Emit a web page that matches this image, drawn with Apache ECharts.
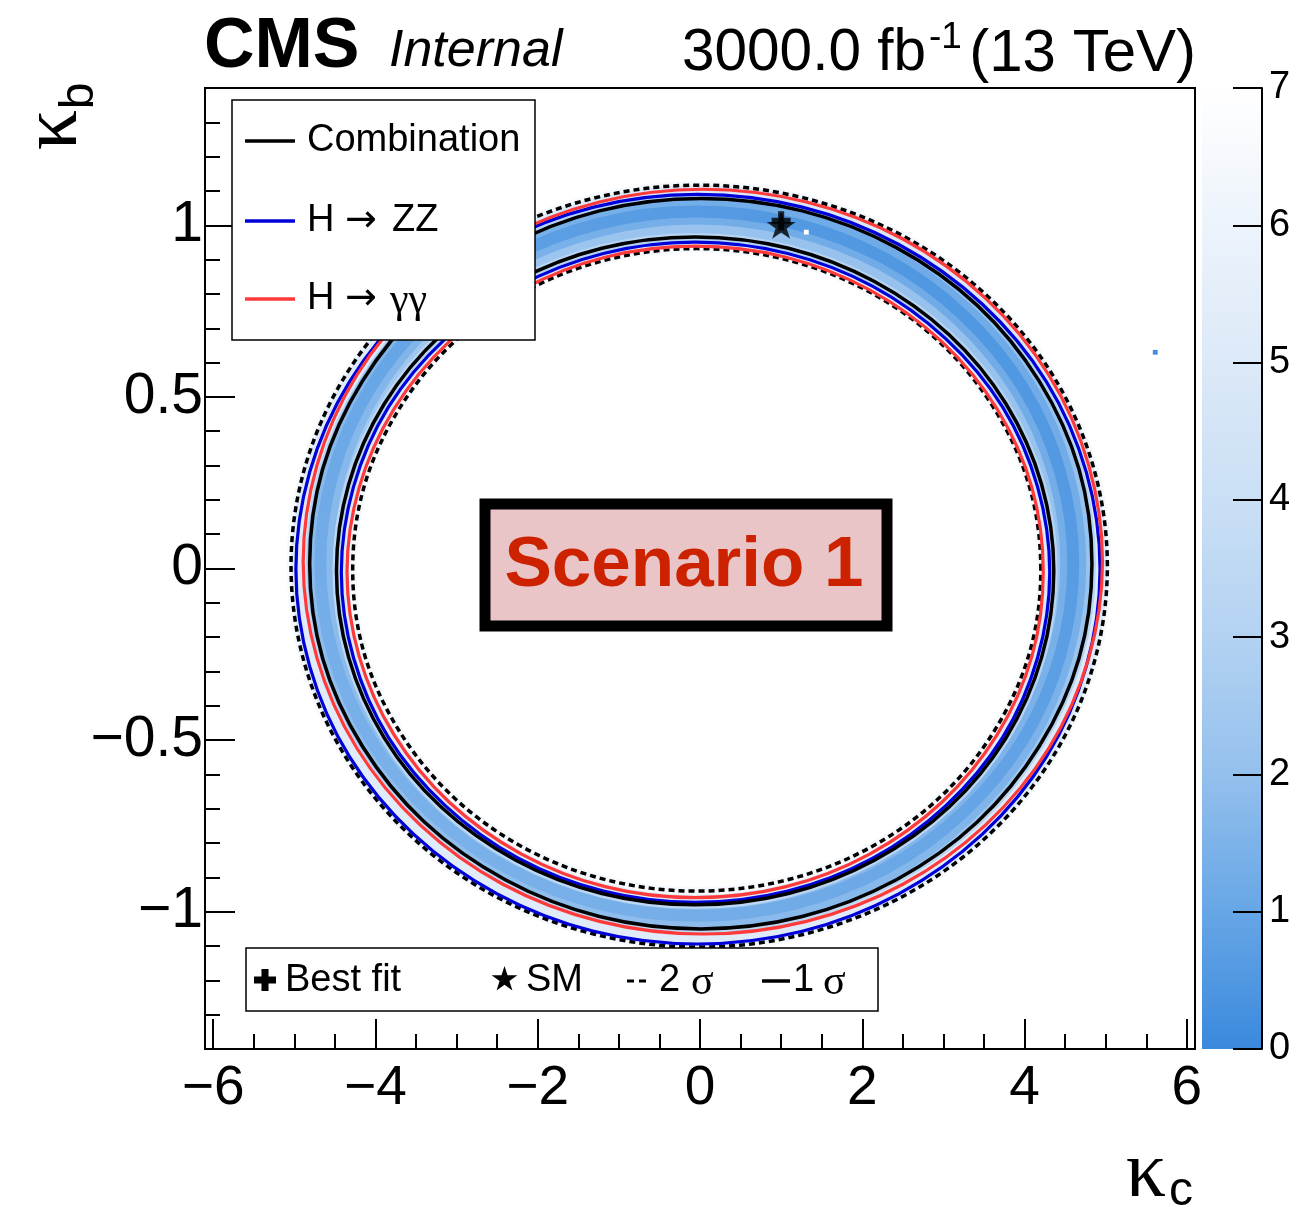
<!DOCTYPE html>
<html><head><meta charset="utf-8">
<script src="https://cdn.jsdelivr.net/npm/echarts@6/dist/echarts.min.js"></script>
<style>html,body{margin:0;padding:0;background:#fff}#c{width:1297px;height:1207px}</style>
</head><body><div id="c"></div>
<script>
// ---------- tick labels ----------
const xTicks = [-6, -4, -2, 0, 2, 4, 6];
const xMinorTicks = [-5.5, -5, -4.5, -3.5, -3, -2.5, -1.5, -1, -0.5, 0.5, 1, 1.5, 2.5, 3, 3.5, 4.5, 5, 5.5];
const yTicks = [-1, -0.5, 0, 0.5, 1];
const yMinorTicks = [-1.3, -1.2, -1.1, -0.9, -0.8, -0.7, -0.6, -0.4, -0.3, -0.2, -0.1, 0.1, 0.2, 0.3, 0.4, 0.6, 0.7, 0.8, 0.9, 1.1, 1.2, 1.3];
const zTicks = [0, 1, 2, 3, 4, 5, 6, 7];

// ---------- contours [kappa_c, kappa_b] ----------
const comb2sOuter = [[5.02,0.007],[4.85,0.294],[4.35,0.562],[3.55,0.792],[2.51,0.968],[1.29,1.079],[-0.01,1.117],[-1.31,1.079],[-2.53,0.968],[-3.57,0.792],[-4.37,0.562],[-4.87,0.294],[-5.04,0.007],[-4.87,-0.280],[-4.37,-0.548],[-3.57,-0.778],[-2.53,-0.954],[-1.31,-1.065],[-0.01,-1.103],[1.29,-1.065],[2.51,-0.954],[3.55,-0.778],[4.35,-0.548],[4.85,-0.280]];
const comb2sInner = [[4.20,-0.004],[4.06,0.238],[3.63,0.464],[2.96,0.658],[2.08,0.807],[1.06,0.900],[-0.04,0.932],[-1.14,0.900],[-2.16,0.807],[-3.04,0.658],[-3.71,0.464],[-4.14,0.238],[-4.28,-0.004],[-4.14,-0.246],[-3.71,-0.472],[-3.04,-0.666],[-2.16,-0.815],[-1.14,-0.908],[-0.04,-0.940],[1.06,-0.908],[2.08,-0.815],[2.96,-0.666],[3.63,-0.472],[4.06,-0.246]];
const comb1sOuter = [[4.83,0.014],[4.67,0.290],[4.18,0.546],[3.42,0.766],[2.42,0.935],[1.26,1.042],[0.01,1.078],[-1.24,1.042],[-2.40,0.935],[-3.40,0.766],[-4.16,0.546],[-4.65,0.290],[-4.81,0.014],[-4.65,-0.262],[-4.16,-0.518],[-3.40,-0.738],[-2.40,-0.907],[-1.24,-1.014],[0.01,-1.050],[1.26,-1.014],[2.42,-0.907],[3.42,-0.738],[4.18,-0.518],[4.67,-0.262]];
const comb1sInner = [[4.36,-0.007],[4.21,0.245],[3.77,0.480],[3.07,0.681],[2.15,0.836],[1.09,0.933],[-0.06,0.966],[-1.21,0.933],[-2.27,0.836],[-3.19,0.681],[-3.89,0.480],[-4.33,0.245],[-4.48,-0.007],[-4.33,-0.259],[-3.89,-0.494],[-3.19,-0.695],[-2.27,-0.850],[-1.21,-0.947],[-0.06,-0.980],[1.09,-0.947],[2.15,-0.850],[3.07,-0.695],[3.77,-0.494],[4.21,-0.259]];
const zz1sOuter = [[4.93,-0.002],[4.76,0.281],[4.27,0.544],[3.48,0.770],[2.45,0.944],[1.26,1.053],[-0.03,1.090],[-1.31,1.053],[-2.50,0.944],[-3.53,0.770],[-4.32,0.544],[-4.81,0.281],[-4.98,-0.002],[-4.81,-0.285],[-4.32,-0.548],[-3.53,-0.774],[-2.50,-0.948],[-1.31,-1.057],[-0.03,-1.094],[1.26,-1.057],[2.45,-0.948],[3.48,-0.774],[4.27,-0.548],[4.76,-0.285]];
const zz1sInner = [[4.31,-0.011],[4.16,0.238],[3.73,0.470],[3.03,0.669],[2.13,0.822],[1.08,0.918],[-0.06,0.951],[-1.19,0.918],[-2.24,0.822],[-3.14,0.669],[-3.84,0.470],[-4.27,0.238],[-4.42,-0.011],[-4.27,-0.260],[-3.84,-0.492],[-3.14,-0.691],[-2.24,-0.844],[-1.19,-0.940],[-0.06,-0.973],[1.08,-0.940],[2.13,-0.844],[3.03,-0.691],[3.73,-0.492],[4.16,-0.260]];
const gg1sOuter = [[4.96,0.020],[4.79,0.301],[4.30,0.563],[3.52,0.787],[2.50,0.960],[1.31,1.068],[0.04,1.105],[-1.24,1.068],[-2.43,0.960],[-3.45,0.787],[-4.23,0.563],[-4.72,0.301],[-4.89,0.020],[-4.72,-0.261],[-4.23,-0.523],[-3.45,-0.747],[-2.43,-0.920],[-1.24,-1.028],[0.04,-1.065],[1.31,-1.028],[2.50,-0.920],[3.52,-0.747],[4.30,-0.523],[4.79,-0.261]];
const gg1sInner = [[4.23,-0.010],[4.09,0.236],[3.66,0.465],[2.98,0.661],[2.09,0.812],[1.06,0.907],[-0.06,0.939],[-1.17,0.907],[-2.20,0.812],[-3.09,0.661],[-3.77,0.465],[-4.20,0.236],[-4.35,-0.010],[-4.20,-0.256],[-3.77,-0.485],[-3.09,-0.681],[-2.20,-0.832],[-1.17,-0.927],[-0.06,-0.959],[1.06,-0.927],[2.09,-0.832],[2.98,-0.681],[3.66,-0.485],[4.09,-0.256]];
const bandCenter = [[4.60,0.014],[4.44,0.280],[3.98,0.527],[3.24,0.739],[2.28,0.903],[1.16,1.005],[-0.04,1.040],[-1.24,1.005],[-2.36,0.903],[-3.32,0.739],[-4.06,0.527],[-4.52,0.280],[-4.68,0.014],[-4.52,-0.252],[-4.06,-0.499],[-3.32,-0.711],[-2.36,-0.875],[-1.24,-0.977],[-0.04,-1.012],[1.16,-0.977],[2.28,-0.875],[3.24,-0.711],[3.98,-0.499],[4.44,-0.252]];

// ---------- heat map (-2 dlnL) levels in the band: [upper-right side, lower-left side] ----------
const heatLayerValues = [[6.6, 6.6], [4.9, 5.3], [3.0, 3.5], [2.0, 2.7], [1.1, 2.0], [0.4, 1.5], [4.9, 5.3], [3.0, 3.5], [7.0, 7.0], [6.6, 6.6]];
// isolated bins [kappa_c, kappa_b, value]
const heatCells = [[1.31, 0.98, 7.0], [5.61, 0.63, 0.2]];

// ---------- markers ----------
const bestFit = [[1.0, 1.013]];
const smPoint = [[1.0, 1.0]];

// ---------- styling / rendering config ----------
const palette = ['#3a89dd', '#67a6e6', '#94c0ed', '#b3d2f2', '#cadff5', '#dce9f8', '#ecf3fb', '#ffffff'];
const contourSets = {c2o: comb2sOuter, c2i: comb2sInner, c1o: comb1sOuter, c1i: comb1sInner, mid: bandCenter};
const heatLayerSpec = [
  {c: 'c2o', mode: 'stroke', w: 9},
  {c: 'c2o', mode: 'fill'},
  {c: 'c1o', mode: 'stroke', w: 8},
  {c: 'c1o', mode: 'fill'},
  {c: 'mid', mode: 'stroke', w: 26},
  {c: 'mid', mode: 'stroke', w: 12},
  {c: 'c1i', mode: 'fill'},
  {c: 'c1i', mode: 'stroke', w: 8},
  {c: 'c2i', mode: 'fill'},
  {c: 'c2i', mode: 'stroke', w: 8}
];
const lineSpec = [
  {pts: comb2sOuter, color: '#000', w: 3.5, dash: [6, 4]},
  {pts: comb2sInner, color: '#000', w: 3.5, dash: [6, 4]},
  {pts: zz1sOuter, color: '#0000d8', w: 3.2},
  {pts: zz1sInner, color: '#0000d8', w: 3.2},
  {pts: gg1sOuter, color: '#ff3a3a', w: 3.2},
  {pts: gg1sInner, color: '#ff3a3a', w: 3.2},
  {pts: comb1sOuter, color: '#000', w: 3.5},
  {pts: comb1sInner, color: '#000', w: 3.5}
];
const SMOOTH = 0.34;
const FONT = '"Liberation Sans", Arial, Helvetica, sans-serif';
const SERIF = '"Liberation Serif", "DejaVu Serif", serif';
const STAR = 'path://M50,0 L61.2,34.5 L97.6,34.5 L68.2,55.9 L79.4,90.5 L50,69.1 L20.6,90.5 L31.8,55.9 L2.4,34.5 L38.8,34.5 Z';
const CROSS = 'path://M34,0 L66,0 L66,34 L100,34 L100,66 L66,66 L66,100 L34,100 L34,66 L0,66 L0,34 L34,34 Z';
const minus = v => (v < 0 ? '\u2212' : '') + Math.abs(v);
const heatColor = v => echarts.color.lerp(Math.max(0, Math.min(1, v / 7)), palette);

// legend icon outlines (unit square, 0..1)
const crossIcon = [[0.34,0],[0.66,0],[0.66,0.34],[1,0.34],[1,0.66],[0.66,0.66],[0.66,1],[0.34,1],[0.34,0.66],[0,0.66],[0,0.34],[0.34,0.34]];
const starIcon = [[0.5,0],[0.612,0.345],[0.976,0.345],[0.682,0.559],[0.794,0.905],[0.5,0.691],[0.206,0.905],[0.318,0.559],[0.024,0.345],[0.388,0.345]];
const place = (pts, x, y, w, h) => pts.map(p => [x + p[0] * w, y + p[1] * h]);

const chart = echarts.init(document.getElementById('c'), null, {renderer: 'canvas'});
function pix(api, pts) { return pts.map(p => api.coord(p)); }

const axisBase = {type: 'value', splitLine: {show: false}, axisLine: {show: false, onZero: false}};
const option = {
  animation: false,
  backgroundColor: '#fff',
  grid: [
    {left: 205, top: 88, width: 990, height: 961, show: true, borderColor: '#000', borderWidth: 2, backgroundColor: 'transparent'},
    {left: 1202, top: 88, width: 60, height: 961, show: false}
  ],
  xAxis: [
    Object.assign({}, axisBase, {gridIndex: 0, position: 'bottom', min: -6.1, max: 6.1,
      axisTick: {inside: true, length: 30, customValues: xTicks, lineStyle: {color: '#000', width: 2}},
      axisLabel: {customValues: xTicks, formatter: minus, fontSize: 55, fontFamily: FONT, color: '#000', margin: 12}}),
    Object.assign({}, axisBase, {gridIndex: 0, position: 'bottom', min: -6.1, max: 6.1,
      axisTick: {inside: true, length: 15, customValues: xMinorTicks, lineStyle: {color: '#000', width: 2}},
      axisLabel: {show: false}}),
    Object.assign({}, axisBase, {gridIndex: 1, position: 'bottom', min: 0, max: 1, show: false})
  ],
  yAxis: [
    Object.assign({}, axisBase, {gridIndex: 0, position: 'left', min: -1.4, max: 1.4,
      axisTick: {inside: true, length: 30, customValues: yTicks, lineStyle: {color: '#000', width: 2}},
      axisLabel: {customValues: yTicks, formatter: minus, fontSize: 57, fontFamily: FONT, color: '#000', margin: 2}}),
    Object.assign({}, axisBase, {gridIndex: 0, position: 'left', min: -1.4, max: 1.4,
      axisTick: {inside: true, length: 15, customValues: yMinorTicks, lineStyle: {color: '#000', width: 2}},
      axisLabel: {show: false}}),
    {gridIndex: 1, type: 'value', min: 0, max: 7, interval: 1, position: 'right', splitLine: {show: false}, z: 10,
      axisLine: {show: true, onZero: false, lineStyle: {color: '#000', width: 2}},
      axisTick: {inside: true, length: 29, lineStyle: {color: '#000', width: 2}},
      axisLabel: {fontSize: 38, fontFamily: FONT, color: '#000', margin: 7}}
  ],
  visualMap: [{type: 'continuous', show: false, min: 0, max: 7, dimension: 2, seriesIndex: [1], inRange: {color: palette}}],
  series: [
    { // heat band
      type: 'custom', xAxisIndex: 0, yAxisIndex: 0, clip: true, z: 1,
      data: heatLayerValues.map((v, i) => [0, 0, v[0], v[1], i]),
      renderItem: function (params, api) {
        const spec = heatLayerSpec[api.value(4)];
        const pts = pix(api, contourSets[spec.c]);
        const g0 = api.coord([3.5, 1.0]), g1 = api.coord([-3.5, -1.0]);
        const col = {type: 'linear', global: true, x: g0[0], y: g0[1], x2: g1[0], y2: g1[1],
          colorStops: [{offset: 0, color: heatColor(api.value(2))}, {offset: 1, color: heatColor(api.value(3))}]};
        if (spec.mode === 'fill') {
          return {type: 'polygon', shape: {points: pts, smooth: SMOOTH}, style: {fill: col, stroke: null}};
        }
        return {type: 'polygon', shape: {points: pts, smooth: SMOOTH}, style: {fill: null, stroke: col, lineWidth: spec.w}};
      }
    },
    { // isolated heat bins
      type: 'custom', xAxisIndex: 0, yAxisIndex: 0, clip: true, z: 2,
      data: heatCells,
      renderItem: function (params, api) {
        const a = api.coord([api.value(0) - 0.03, api.value(1) + 0.007]);
        const b = api.coord([api.value(0) + 0.03, api.value(1) - 0.007]);
        return {type: 'rect', shape: {x: a[0], y: a[1], width: b[0] - a[0], height: b[1] - a[1]}, style: {fill: api.visual('color')}};
      }
    },
    { // contour lines
      type: 'custom', xAxisIndex: 0, yAxisIndex: 0, clip: true, z: 3,
      data: lineSpec.map((s, i) => [0, 0, i]),
      renderItem: function (params, api) {
        const s = lineSpec[params.dataIndex];
        return {type: 'polygon', shape: {points: pix(api, s.pts), smooth: SMOOTH},
          style: {fill: null, stroke: s.color, lineWidth: s.w, lineDash: s.dash || null}};
      }
    },
    {type: 'scatter', xAxisIndex: 0, yAxisIndex: 0, z: 4, symbol: STAR, symbolSize: [29, 27], data: smPoint, itemStyle: {color: '#000'}, silent: true},
    {type: 'scatter', xAxisIndex: 0, yAxisIndex: 0, z: 5, symbol: CROSS, symbolSize: 19, data: bestFit, itemStyle: {color: '#000'}, silent: true},
    { // colour bar
      type: 'custom', xAxisIndex: 2, yAxisIndex: 2, z: 0,
      data: [[0, 0, 1, 7]],
      renderItem: function (params, api) {
        const a = api.coord([api.value(0), api.value(3)]);
        const b = api.coord([api.value(2), api.value(1)]);
        return {type: 'rect', shape: {x: a[0], y: a[1], width: b[0] - a[0], height: b[1] - a[1]},
          style: {fill: {type: 'linear', x: 0, y: 1, x2: 0, y2: 0,
            colorStops: palette.map((c, i) => ({offset: i / (palette.length - 1), color: c}))}}};
      }
    }
  ],
  graphic: [
    // title
    {type: 'text', z: 20, style: {text: 'CMS', x: 204, y: 48, verticalAlign: 'middle', font: 'bold 70px ' + FONT, fill: '#000'}},
    {type: 'text', z: 20, style: {text: 'Internal', x: 389, y: 52, verticalAlign: 'middle', font: 'italic 52px ' + FONT, fill: '#000'}},
    {type: 'text', z: 20, style: {text: '3000.0 fb', x: 682, y: 54, verticalAlign: 'middle', font: '58.5px ' + FONT, fill: '#000'}},
    {type: 'text', z: 20, style: {text: '-1', x: 929, y: 38, verticalAlign: 'middle', font: '37px ' + FONT, fill: '#000'}},
    {type: 'text', z: 20, style: {text: '(13 TeV)', x: 1196, y: 54, align: 'right', verticalAlign: 'middle', font: '60px ' + FONT, fill: '#000'}},
    // axis titles
    {type: 'text', z: 20, x: 1146, y: 1175, style: {text: '\u03ba', align: 'center', verticalAlign: 'middle', font: '80px ' + SERIF, fill: '#000'}},
    {type: 'text', z: 20, x: 1181, y: 1192, style: {text: 'c', align: 'center', verticalAlign: 'middle', font: '48px ' + FONT, fill: '#000'}},
    {type: 'text', z: 20, x: 55, y: 130, rotation: Math.PI / 2, style: {text: '\u03ba', align: 'center', verticalAlign: 'middle', font: '80px ' + SERIF, fill: '#000'}},
    {type: 'text', z: 20, x: 80, y: 96, rotation: Math.PI / 2, style: {text: 'b', align: 'center', verticalAlign: 'middle', font: '48px ' + FONT, fill: '#000'}},
    // top-left legend
    {type: 'rect', z: 20, shape: {x: 232, y: 100, width: 303, height: 240}, style: {fill: '#fff', stroke: '#000', lineWidth: 1.5}},
    {type: 'line', z: 21, shape: {x1: 245, y1: 141, x2: 295, y2: 141}, style: {stroke: '#000', lineWidth: 3.5}},
    {type: 'line', z: 21, shape: {x1: 245, y1: 221, x2: 295, y2: 221}, style: {stroke: '#0000d8', lineWidth: 3.5}},
    {type: 'line', z: 21, shape: {x1: 245, y1: 299, x2: 295, y2: 299}, style: {stroke: '#ff3a3a', lineWidth: 3.5}},
    {type: 'text', z: 21, style: {text: 'Combination', x: 307, y: 141, verticalAlign: 'middle', font: '38px ' + FONT, fill: '#000'}},
    {type: 'text', z: 21, style: {text: 'H', x: 307, y: 221, verticalAlign: 'middle', font: '38px ' + FONT, fill: '#000'}},
    {type: 'text', z: 21, style: {text: '\u2192', x: 345, y: 221, verticalAlign: 'middle', font: '38px "DejaVu Sans", sans-serif', fill: '#000'}},
    {type: 'text', z: 21, style: {text: 'ZZ', x: 392, y: 221, verticalAlign: 'middle', font: '38px ' + FONT, fill: '#000'}},
    {type: 'text', z: 21, style: {text: 'H', x: 307, y: 299, verticalAlign: 'middle', font: '38px ' + FONT, fill: '#000'}},
    {type: 'text', z: 21, style: {text: '\u2192', x: 345, y: 299, verticalAlign: 'middle', font: '38px "DejaVu Sans", sans-serif', fill: '#000'}},
    {type: 'text', z: 21, style: {text: '\u03b3\u03b3', x: 390, y: 301, verticalAlign: 'middle', font: '42px ' + SERIF, fill: '#000'}},
    // bottom legend
    {type: 'rect', z: 20, shape: {x: 246, y: 948, width: 632, height: 63}, style: {fill: '#fff', stroke: '#000', lineWidth: 1.5}},
    {type: 'polygon', z: 21, shape: {points: place(crossIcon, 254, 969, 22, 22)}, style: {fill: '#000'}},
    {type: 'text', z: 21, style: {text: 'Best fit', x: 285, y: 981, verticalAlign: 'middle', font: '38px ' + FONT, fill: '#000'}},
    {type: 'polygon', z: 21, shape: {points: place(starIcon, 491, 966, 27, 27)}, style: {fill: '#000'}},
    {type: 'text', z: 21, style: {text: 'SM', x: 526, y: 981, verticalAlign: 'middle', font: '38px ' + FONT, fill: '#000'}},
    {type: 'line', z: 21, shape: {x1: 627, y1: 981, x2: 650, y2: 981}, style: {stroke: '#000', lineWidth: 3, lineDash: [7, 5]}},
    {type: 'text', z: 21, style: {text: '2', x: 659, y: 981, verticalAlign: 'middle', font: '38px ' + FONT, fill: '#000'}},
    {type: 'text', z: 21, style: {text: '\u03c3', x: 691, y: 983, verticalAlign: 'middle', font: '42px ' + SERIF, fill: '#000'}},
    {type: 'line', z: 21, shape: {x1: 762, y1: 981, x2: 790, y2: 981}, style: {stroke: '#000', lineWidth: 3.5}},
    {type: 'text', z: 21, style: {text: '1', x: 793, y: 981, verticalAlign: 'middle', font: '38px ' + FONT, fill: '#000'}},
    {type: 'text', z: 21, style: {text: '\u03c3', x: 823, y: 983, verticalAlign: 'middle', font: '42px ' + SERIF, fill: '#000'}},
    // scenario box
    {type: 'rect', z: 20, shape: {x: 485, y: 504, width: 402, height: 122}, style: {fill: '#e9c5c8', stroke: '#000', lineWidth: 11}},
    {type: 'text', z: 21, style: {text: 'Scenario 1', x: 684, y: 566, align: 'center', verticalAlign: 'middle', font: 'bold 71px ' + FONT, fill: '#cc2200'}}
  ]
};
chart.setOption(option);
</script>
</body></html>
